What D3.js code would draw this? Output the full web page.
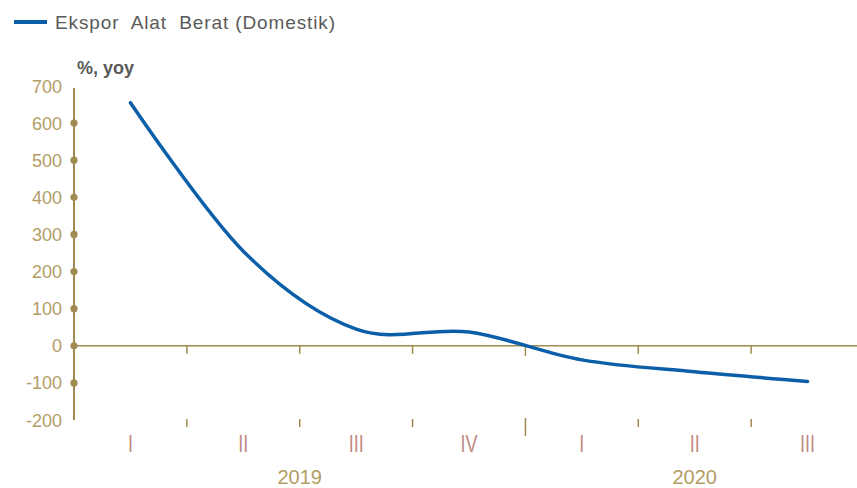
<!DOCTYPE html>
<html><head><meta charset="utf-8">
<script src="https://cdn.jsdelivr.net/npm/d3@7"></script>
<style>body{margin:0;background:#fff}svg{display:block;font-family:"Liberation Sans",Arial,sans-serif}</style>
</head><body>
<svg id="c" width="857" height="488"></svg>
<script>
const quarters = ["I","II","III","IV","I","II","III"];
const years = ["2019","2019","2019","2019","2020","2020","2020"];
const yearLabels = ["2019","2020"];
const values = [655, 255, 45, 37, -38, -70, -96];
const yTicks = [700,600,500,400,300,200,100,0,-100,-200];
const seriesName = "Ekspor  Alat  Berat (Domestik)";
const unitLabel = "%, yoy";

const svg = d3.select("#c");
const axisCol = "#a08a50", labelCol = "#b39d66", romanCol = "#bf8a84", lineCol = "#0b5ea8";
const idx = d3.range(values.length);
const x = d3.scaleBand().domain(idx).range([74, 864]).padding(0);
const y = d3.scaleLinear().domain([-200, 700]).range([420, 86]);

// legend
svg.append("line").attr("x1",14).attr("x2",47).attr("y1",22).attr("y2",22)
  .attr("stroke",lineCol).attr("stroke-width",4);
svg.append("text").attr("x",55).attr("y",29).attr("font-size",19).attr("fill","#5a5a5a")
  .attr("textLength",280).attr("lengthAdjust","spacing")
  .style("white-space","pre").text(seriesName);
svg.append("text").attr("x",77).attr("y",74).attr("font-size",18).attr("font-weight","bold").attr("fill","#5a5a5a").text(unitLabel);

// y axis
svg.append("line").attr("x1",74).attr("x2",74).attr("y1",y(700)+2).attr("y2",y(-200))
  .attr("stroke",axisCol).attr("stroke-width",2);
svg.selectAll(".yt").data(yTicks).join("text").attr("class","yt")
  .attr("x",62).attr("y",d=>y(d)+6.5).attr("text-anchor","end").attr("font-size",18)
  .attr("fill",labelCol).text(d=>d);
svg.selectAll(".yd").data(yTicks.filter(d=>d!==700 && d!==-200)).join("circle").attr("class","yd")
  .attr("cx",74).attr("cy",d=>y(d)).attr("r",3.6).attr("fill",axisCol);

// zero line
svg.append("line").attr("x1",74).attr("x2",857).attr("y1",y(0)).attr("y2",y(0))
  .attr("stroke",axisCol).attr("stroke-width",1.6);
const bounds = idx.slice(1).map(i=>x(i));
svg.selectAll(".zt").data(bounds).join("line").attr("class","zt")
  .attr("x1",d=>d).attr("x2",d=>d).attr("y1",y(0)).attr("y2",(d,i)=>i===3?y(0)+10:y(0)+8)
  .attr("stroke",axisCol).attr("stroke-width",1.5);
svg.selectAll(".bt").data(bounds).join("line").attr("class","bt")
  .attr("x1",d=>d).attr("x2",d=>d).attr("y1",(d,i)=>i===3?418:419).attr("y2",(d,i)=>i===3?436:427)
  .attr("stroke",axisCol).attr("stroke-width",1.5);

// category labels
svg.selectAll(".q").data(idx).join("text").attr("class","q")
  .attr("transform",i=>`translate(${x(i)+x.bandwidth()/2},452) scale(0.75,1)`)
  .attr("text-anchor","middle")
  .attr("font-size",24).attr("fill",romanCol).text(i=>quarters[i]);
yearLabels.forEach(yr=>{
  const ids = idx.filter(i=>years[i]===yr);
  const x0 = x(ids[0]), x1 = Math.min(x(ids[ids.length-1])+x.bandwidth(), 864);
  svg.append("text").attr("x",(x0+x1)/2).attr("y",484).attr("text-anchor","middle")
    .attr("font-size",20).attr("fill",labelCol).text(yr);
});

// series line
const line = d3.line().x(i=>x(i)+x.bandwidth()/2).y(i=>y(values[i])).curve(d3.curveCatmullRom.alpha(0));
svg.append("path").attr("d",line(idx)).attr("fill","none").attr("stroke",lineCol)
  .attr("stroke-width",3.5).attr("stroke-linecap","round");
</script>
</body></html>
